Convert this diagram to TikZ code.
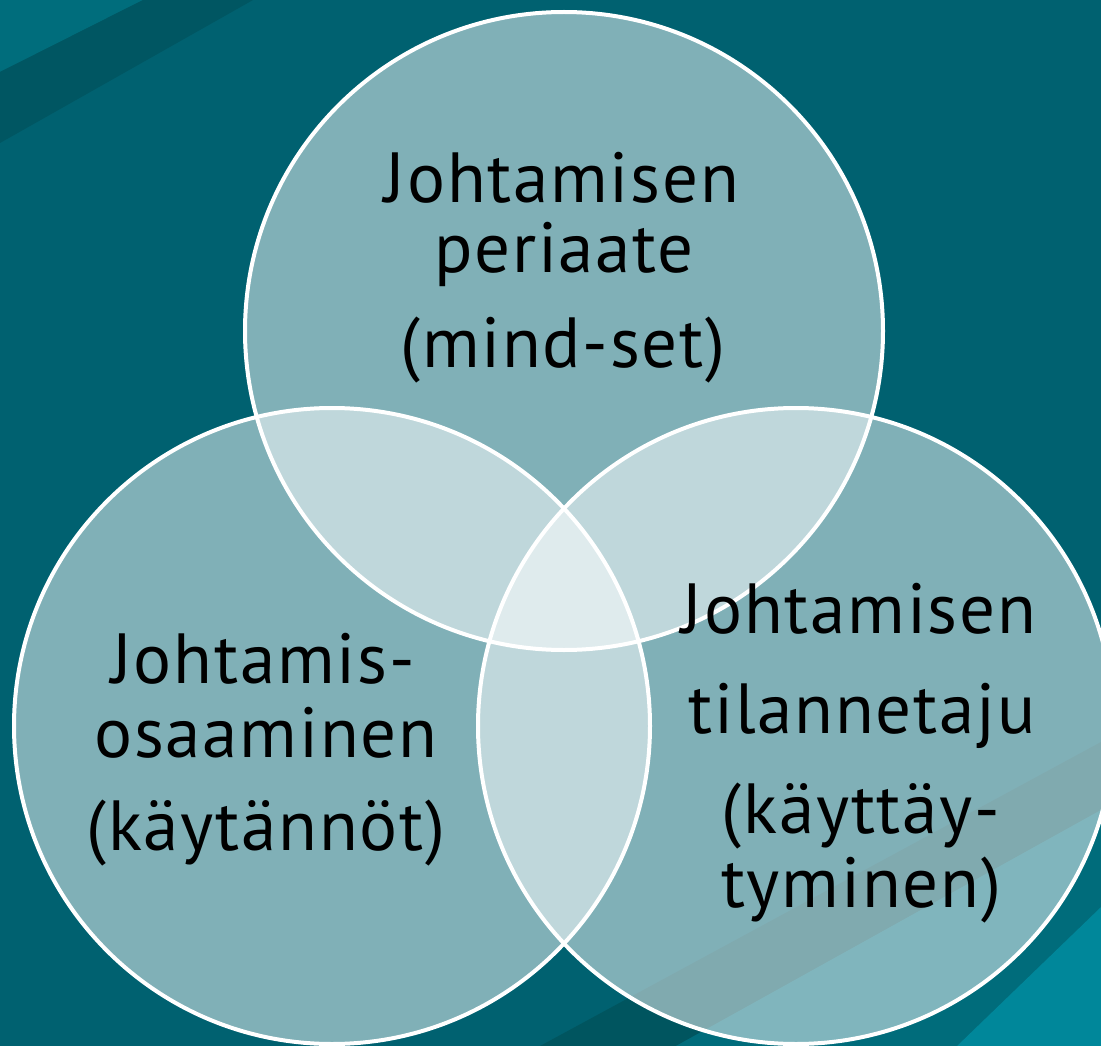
\documentclass[tikz,border=0pt]{standalone}
\usepackage{fontspec}
\setmainfont{PT Sans}[LetterSpace=2.5]
\definecolor{bg}{HTML}{006170}
\definecolor{bgLight}{HTML}{006D7C}
\definecolor{bgDark}{HTML}{005662}
\definecolor{bgDarkB}{HTML}{00555F}
\definecolor{bgMid}{HTML}{006C7B}
\definecolor{bgBright}{HTML}{00879A}
\begin{document}
\begin{tikzpicture}[x=1pt,y=-1pt,
  venn/.style={fill=white,fill opacity=0.5},
  rim/.style={draw=white,line width=4pt},
  lbl/.style={anchor=base,inner sep=0pt,font=\fontsize{71}{80}\selectfont,text=black}]
\useasboundingbox (0,0) rectangle (1101,1046);
% background
\fill[bg] (0,0) rectangle (1101,1046);
\fill[bgLight] (0,0) -- (143,0) -- (0,72) -- cycle;
\fill[bgDark] (143,0) -- (253,0) -- (0,143) -- (0,72) -- cycle;
\fill[bgDarkB] (540,1046) -- (1101,742) -- (1101,810) -- (676,1046) -- cycle;
\fill[bgMid] (676,1046) -- (1101,810) -- (1101,907) -- (957,1046) -- cycle;
\fill[bgBright] (957,1046) -- (1101,907) -- (1101,1046) -- cycle;
% circle centres
\coordinate (cT) at (564,331);
\coordinate (cL) at (332,726);
\coordinate (cR) at (796,726);
% fills
\fill[venn] (cT) circle (319);
\fill[venn] (cL) circle (318);
\fill[venn] (cR) circle (318);
% rims
\draw[rim] (cT) circle (319);
\draw[rim] (cL) circle (318);
\draw[rim] (cR) circle (318);
% labels top
\node[lbl] (t1) at (562,202) {Johtamisen};
\node[lbl] (t2) at (564,272) {periaate};
\node[lbl] (t3) at (563,367) {(mind-set)};
% labels left
\node[lbl] (l1) at (263,683) {Johtamis-};
\node[lbl] (l2) at (266,757) {osaaminen};
\node[lbl] (l3) at (266,850) {(käytännöt)};
% labels right
\node[lbl] (r1) at (859,633) {Johtamisen};
\node[lbl] (r2) at (862,733) {tilannetaju};
\node[lbl] (r3) at (861,833) {(käyttäy-};
\node[lbl] (r4) at (861,907) {tyminen)};
\end{tikzpicture}
\end{document}
